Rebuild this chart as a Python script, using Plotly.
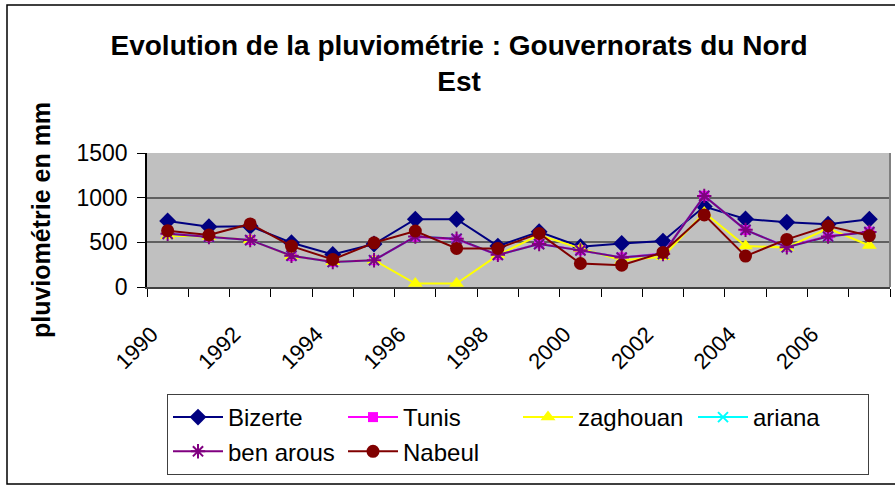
import plotly.graph_objects as go

years = list(range(1990, 2008))
bizerte = [740, 675, 680, 495, 365, 481, 759, 759, 458, 619, 450, 488, 514, 900, 762, 725, 702, 759]
tunis = [600, 563, 526, 346, 282, 300, 563, 533, 357, 488, 413, 331, 376, 1021, 638, 450, 571, 619]
zaghouan = [575, 565, 526, 346, 282, 300, 38, 38, 357, 582, 432, 300, 338, 833, 458, 443, 657, 465]
ariana = [595, 560, 525, 350, 280, 300, 565, 540, 360, 480, 410, 330, 370, 1020, 640, 445, 565, 615]
ben_arous = [595, 560, 525, 350, 280, 300, 565, 540, 360, 480, 410, 330, 370, 1020, 640, 445, 565, 615]
nabeul = [630, 582, 706, 458, 308, 495, 627, 432, 432, 600, 263, 244, 387, 807, 346, 533, 683, 574]

label_years = [1990, 1992, 1994, 1996, 1998, 2000, 2002, 2004, 2006]
y_ticks = [0, 500, 1000, 1500]

FONT = "Arial, Liberation Sans, sans-serif"

series = [
    ("Bizerte", bizerte, "#000080", dict(symbol="diamond", size=13, color="#000080")),
    ("Tunis", tunis, "#FF00FF", dict(symbol="square", size=10, color="#FF00FF")),
    ("zaghouan", zaghouan, "#FFFF00", dict(symbol="triangle-up", size=13, color="#FFFF00")),
    ("ariana", ariana, "#00FFFF", dict(symbol="x-thin-open", size=10, color="#00FFFF", line=dict(color="#00FFFF", width=2))),
    ("ben arous", ben_arous, "#800080", dict(symbol="asterisk-open", size=12, color="#800080", line=dict(color="#800080", width=2))),
    ("Nabeul", nabeul, "#800000", dict(symbol="circle", size=13, color="#800000")),
]

fig = go.Figure()
for name, vals, col, mk in series:
    fig.add_trace(go.Scatter(x=years, y=vals, name=name, mode="lines+markers",
                             line=dict(color=col, width=2), marker=mk))

W, H = 895, 487
L, R, T, B = 147, 5, 153, 200
pw = W - L - R
ph = H - T - B

def px_x(x):
    return (x - L) / pw

def px_y(y):
    return (H - B - y) / ph

fig.update_layout(
    width=W, height=H,
    margin=dict(l=L, r=R, t=T, b=B),
    paper_bgcolor="white",
    plot_bgcolor="#C0C0C0",
    font=dict(family=FONT, color="black"),
    title=dict(text="<b>Evolution de la pluviométrie : Gouvernorats du Nord<br>Est</b>",
               x=459 / W, xref="container", xanchor="center",
               y=1 - 55 / H, yref="container", yanchor="top",
               font=dict(size=28, family=FONT, color="black")),
    showlegend=True,
    legend=dict(orientation="h", xref="container", yref="container",
                x=167 / W, y=1 - 394 / H, xanchor="left", yanchor="top",
                entrywidth=110, entrywidthmode="pixels", itemwidth=50,
                bgcolor="white", bordercolor="#404040", borderwidth=1,
                font=dict(size=24, family=FONT, color="black"),
                traceorder="normal"),
    xaxis=dict(range=[1989.5, 2007.5], tickmode="array", tickvals=label_years,
               ticktext=[str(y) for y in label_years], tickangle=-45,
               ticks="", showgrid=False, zeroline=False, automargin=False,
               showline=True, linecolor="#404040", linewidth=1.5,
               ticklabelshift=-16, ticklabelstandoff=24,
               tickfont=dict(size=22, family=FONT, color="black"),
               minor=dict(tickmode="array", tickvals=[y - 0.5 for y in years] + [2007.5],
                          ticks="outside", ticklen=8, tickcolor="black", tickwidth=1, showgrid=False)),
    yaxis=dict(range=[0, 1500], tickvals=y_ticks, ticks="outside", ticklen=8,
               tickcolor="black", showgrid=True, gridcolor="#606060", gridwidth=2,
               zeroline=False, showline=True, linecolor="black", linewidth=1.5,
               automargin=False, ticklabelstandoff=5,
               tickfont=dict(size=23, family=FONT, color="black"),
               title=dict(text="<b>pluviométrie en mm</b>", standoff=19,
                          font=dict(size=25, family=FONT, color="black"))),
)

# plot area right border
fig.add_shape(type="line", xref="paper", yref="paper", x0=1, x1=1, y0=0, y1=1,
              line=dict(color="#808080", width=2))
# outer chart border
fig.add_shape(type="rect", xref="paper", yref="paper",
              x0=px_x(7), x1=px_x(905), y0=px_y(484), y1=px_y(5),
              line=dict(color="black", width=1.5), fillcolor="rgba(0,0,0,0)", layer="below")

fig.write_html("out.html", config={"displayModeBar": False},
               post_script="document.body.style.margin='0';")
